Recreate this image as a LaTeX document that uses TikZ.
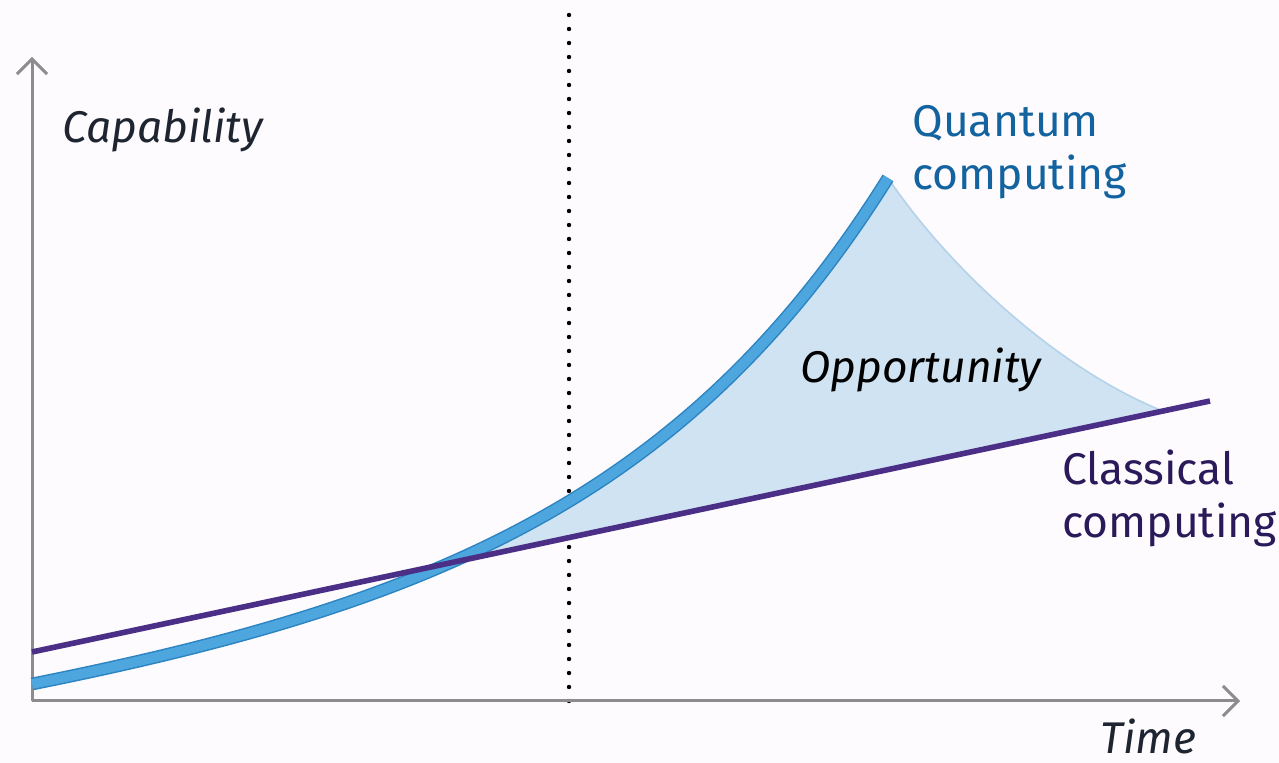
\documentclass[tikz,border=0pt]{standalone}
\usepackage{fontspec}
\setmainfont{Fira Sans}
\usetikzlibrary{arrows.meta,calc}

\definecolor{bgtint}{HTML}{FDFBFE}
\definecolor{axisgray}{HTML}{8C8C8C}
\definecolor{qblue}{HTML}{4EA6DE}
\definecolor{qedge}{HTML}{2C84C2}
\definecolor{qtext}{HTML}{12639F}
\definecolor{cpurple}{HTML}{4B2E86}
\definecolor{ctext}{HTML}{2B1A5A}
\definecolor{ofill}{HTML}{CFE3F3}
\definecolor{oedge}{HTML}{B5D2EA}
\definecolor{inktext}{HTML}{1E2430}

\begin{document}
\begin{tikzpicture}[x=0.5pt, y=-0.5pt]
        \tikzset{AxisStyle/.style={draw=axisgray, line width=1.5pt,
            -{Straight Barb[length=7.5pt, width=15pt]}}}
        \tikzset{LabelStyle/.style={font=\fontsize{22.2}{26.8}\selectfont,
            align=left, inner sep=0pt, anchor=base west}}
        \tikzset{ItalicStyle/.style={LabelStyle, font=\fontsize{22.2}{26.8}\selectfont\itshape}}
        \tikzset{QuantumStyle/.style={line width=#1, line cap=butt}}

        \fill[bgtint] (0,0) rectangle (1279,763);

        \coordinate (origin) at (32,701);
        \coordinate (ytop) at (32,57);
        \coordinate (xend) at (1240,701);
        \coordinate (nowtop) at (569,10);
        \coordinate (nowbot) at (569,701);
        \coordinate (cstart) at (32,652);
        \coordinate (cend) at (1210,401);
        \coordinate (qstart) at (32,684);
        \coordinate (qtip) at (888,178);
        \coordinate (oend) at ($(cstart)!0.96!(cend)$);

        \draw[dash pattern=on 0pt off 7pt, line cap=round, line width=2.2pt] (nowbot) -- (nowtop);

        % opportunity area
        \begin{scope}
          \clip (448,0) rectangle (1279,763);
          \fill[ofill] (qstart) .. controls (432,604) and (688,498) .. (qtip)
              .. controls (950,270) and (1060,370) .. (oend) -- (cstart) -- cycle;
        \end{scope}
        \draw[oedge, line width=0.8pt] (qtip) .. controls (950,270) and (1060,370) .. (oend);

        \draw[AxisStyle] (origin) -- (ytop);
        \draw[AxisStyle] (origin) -- (xend);

        % quantum curve
        \draw[qedge, QuantumStyle=6.4pt] (qstart) .. controls (432,604) and (688,498) .. (qtip);
        \draw[qblue, QuantumStyle=4.9pt] (qstart) .. controls (432,604) and (688,498) .. (qtip);

        % classical line
        \draw[cpurple, line width=2.8pt] (cstart) -- (cend);

        \node[ItalicStyle, text=inktext] (capability) at (62,143) {Capability};
        \node[LabelStyle, text=qtext] (quantum) at (912,190) {Quantum\\computing};
        \node[ItalicStyle, text=black] (opportunity) at (800,383) {Opportunity};
        \node[LabelStyle, text=ctext] (classical) at (1062,538) {Classical\\computing};
        \node[ItalicStyle, text=inktext] (time) at (1100,754) {Time};
\end{tikzpicture}
\end{document}
